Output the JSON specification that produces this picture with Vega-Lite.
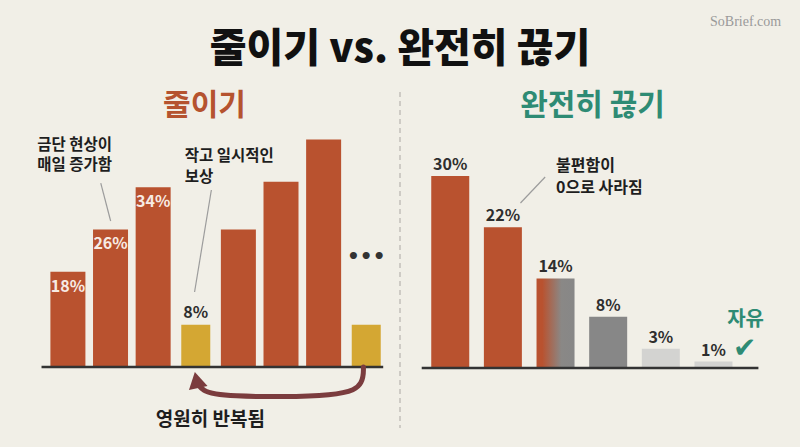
{
  "$schema": "https://vega.github.io/schema/vega-lite/v6.json",
  "width": 800,
  "height": 447,
  "autosize": {"type": "none"},
  "padding": 0,
  "background": "#f1efe7",
  "config": {
    "view": {"stroke": null},
    "font": "Noto Sans CJK KR"
  },
  "title": {
    "text": "줄이기 vs. 완전히 끊기",
    "fontSize": 40,
    "fontWeight": 900,
    "color": "#111111",
    "anchor": "middle",
    "frame": "group",
    "offset": -70
  },
  "layer": [
    {
      "description": "Cutting down: withdrawal keeps climbing between small rewards",
      "encoding": {
        "x": {"field": "i", "type": "quantitative", "axis": null, "scale": {"domain": [-0.476, 18.06], "nice": false, "zero": false}},
        "y": {"field": "v", "type": "quantitative", "axis": null, "scale": {"domain": [-15.12, 69.38], "nice": false, "zero": false}}
      },
      "layer": [
        {
          "data": {"values": [{"i": 8.792, "i2": 8.792, "v": 51.98, "v2": -11.53}]},
          "mark": {"type": "rule", "color": "#c2c0ba", "strokeWidth": 1.5, "strokeDash": [5, 4]},
          "encoding": {"x2": {"field": "i2"}, "y2": {"field": "v2"}}
        },
        {
          "data": {"name": "cutDown"},
          "transform": [{"filter": "datum.kind === '금단'"}],
          "mark": {"type": "bar", "orient": "vertical", "width": 35},
          "encoding": {
            "color": {"field": "kind", "type": "nominal", "legend": null, "scale": {"domain": ["금단", "보상"], "range": ["#b9522f", "#d4a733"]}}
          }
        },
        {
          "data": {"name": "cutDown"},
          "transform": [{"filter": "datum.kind === '보상'"}],
          "mark": {"type": "bar", "orient": "vertical", "width": 29},
          "encoding": {
            "color": {"field": "kind", "type": "nominal", "legend": null, "scale": {"domain": ["금단", "보상"], "range": ["#b9522f", "#d4a733"]}}
          }
        },
        {
          "data": {"name": "cutDown"},
          "transform": [
            {"filter": "datum.cycle === 1 && datum.kind === '금단'"},
            {"calculate": "datum.v + '%'", "as": "pct"}
          ],
          "mark": {"type": "text", "baseline": "middle", "dy": 15, "fontSize": 16, "fontWeight": "bold", "color": "#f7ebe4"},
          "encoding": {"text": {"field": "pct"}}
        },
        {
          "data": {"name": "cutDown"},
          "transform": [
            {"filter": "datum.cycle === 1 && datum.kind === '보상'"},
            {"calculate": "datum.v + '%'", "as": "pct"}
          ],
          "mark": {"type": "text", "baseline": "middle", "dy": -12, "fontSize": 16, "fontWeight": "bold", "color": "#2e2e2e"},
          "encoding": {"text": {"field": "pct"}}
        },
        {
          "data": {"values": [{"i": 0.381, "i2": 8.398, "v": 0, "v2": 0}]},
          "mark": {"type": "rule", "color": "#333333", "strokeWidth": 2.5},
          "encoding": {"x2": {"field": "i2"}, "y2": {"field": "v2"}}
        },
        {
          "data": {"values": [
            {"i": 1.771, "v": 34.78, "i2": 2.003, "v2": 27.6},
            {"i": 4.366, "v": 33.46, "i2": 3.972, "v2": 14.18}
          ]},
          "mark": {"type": "rule", "color": "#9c9c9c", "strokeWidth": 1.2},
          "encoding": {"x2": {"field": "i2"}, "y2": {"field": "v2"}}
        },
        {
          "data": {"values": [{"i": 4.204, "v": 49.34, "text": "줄이기"}]},
          "mark": {"type": "text", "baseline": "middle", "fontSize": 30, "fontWeight": "bold", "color": "#b5532f"},
          "encoding": {"text": {"field": "text"}}
        },
        {
          "data": {"values": [{"i": 1.157, "v": 41.97, "text": "금단 현상이\n매일 증가함"}]},
          "mark": {"type": "text", "baseline": "middle", "align": "center", "lineBreak": "\n", "lineHeight": 20.5, "fontSize": 15.5, "fontWeight": "bold", "color": "#1e1e1e"},
          "encoding": {"text": {"field": "text"}}
        },
        {
          "data": {"values": [{"i": 3.741, "v": 39.89, "text": "작고 일시적인\n보상"}]},
          "mark": {"type": "text", "baseline": "middle", "align": "left", "lineBreak": "\n", "lineHeight": 21, "fontSize": 15.5, "fontWeight": "bold", "color": "#1e1e1e"},
          "encoding": {"text": {"field": "text"}}
        },
        {
          "data": {"values": [{"i": 8, "v": 20.8, "text": "•••"}]},
          "mark": {"type": "text", "baseline": "middle", "font": "DejaVu Sans", "fontSize": 20, "fontWeight": "bold", "color": "#333333"},
          "encoding": {"text": {"field": "text"}}
        },
        {
          "data": {"values": [
            {"k": 1, "i": 7.934, "v": 0},
            {"k": 2, "i": 7.934, "v": -3.02},
            {"k": 3, "i": 7.564, "v": -5.67},
            {"k": 4, "i": 4.505, "v": -5.67},
            {"k": 5, "i": 4.158, "v": -4.35},
            {"k": 6, "i": 4.065, "v": -3.4}
          ]},
          "mark": {"type": "line", "interpolate": "basis", "color": "#7b3c3e", "strokeWidth": 5, "strokeCap": "round"},
          "encoding": {"order": {"field": "k", "type": "quantitative"}}
        },
        {
          "data": {"values": [{"i": 4.018, "v": -2.46}]},
          "mark": {"type": "point", "shape": "triangle-up", "size": 360, "filled": true, "opacity": 1, "angle": -12, "color": "#7b3c3e"}
        },
        {
          "data": {"values": [{"i": 4.343, "v": -10.02, "text": "영원히 반복됨"}]},
          "mark": {"type": "text", "baseline": "middle", "fontSize": 19, "fontWeight": "bold", "color": "#1e1e1e"},
          "encoding": {"text": {"field": "text"}}
        }
      ]
    },
    {
      "description": "Quitting completely: discomfort fades to nothing",
      "encoding": {
        "x": {"field": "i", "type": "quantitative", "axis": null, "scale": {"domain": [-7.458, 7.549], "nice": false, "zero": false}},
        "y": {"field": "v", "type": "quantitative", "axis": null, "scale": {"domain": [-12.34, 57.5], "nice": false, "zero": false}}
      },
      "layer": [
        {
          "data": {"name": "quit"},
          "transform": [{"filter": "datum.stage !== '전환'"}],
          "mark": {"type": "bar", "orient": "vertical", "width": 38},
          "encoding": {
            "color": {"field": "stage", "type": "nominal", "legend": null, "scale": {"domain": ["금단", "감소", "회복"], "range": ["#b9522f", "#878787", "#d3d3d1"]}}
          }
        },
        {
          "data": {"name": "quit"},
          "transform": [{"filter": "datum.stage === '전환'"}],
          "mark": {
            "type": "bar", "orient": "vertical", "width": 38,
            "color": {
              "gradient": "linear", "x1": 0, "x2": 1, "y1": 0, "y2": 0,
              "stops": [
                {"offset": 0, "color": "#b9522f"},
                {"offset": 0.15, "color": "#b9522f"},
                {"offset": 0.65, "color": "#8a8886"},
                {"offset": 1, "color": "#878787"}
              ]
            }
          }
        },
        {
          "data": {"name": "quit"},
          "transform": [{"calculate": "datum.v + '%'", "as": "pct"}],
          "mark": {"type": "text", "baseline": "middle", "dy": -11, "fontSize": 16, "fontWeight": "bold", "color": "#2e2e2e"},
          "encoding": {"text": {"field": "pct"}}
        },
        {
          "data": {"values": [{"i": 0.458, "i2": 6.854, "v": 0, "v2": 0}]},
          "mark": {"type": "rule", "color": "#333333", "strokeWidth": 2.5},
          "encoding": {"x2": {"field": "i2"}, "y2": {"field": "v2"}}
        },
        {
          "data": {"values": [{"i": 2.803, "v": 29.84, "i2": 2.334, "v2": 25.78}]},
          "mark": {"type": "rule", "color": "#9c9c9c", "strokeWidth": 1.2},
          "encoding": {"x2": {"field": "i2"}, "y2": {"field": "v2"}}
        },
        {
          "data": {"values": [{"i": 3.703, "v": 40.94, "text": "완전히 끊기"}]},
          "mark": {"type": "text", "baseline": "middle", "fontSize": 30, "fontWeight": "bold", "color": "#2e8b74"},
          "encoding": {"text": {"field": "text"}}
        },
        {
          "data": {"values": [{"i": 3.009, "v": 31.56, "text": "불편함이\n0으로 사라짐"}]},
          "mark": {"type": "text", "baseline": "middle", "align": "left", "lineBreak": "\n", "lineHeight": 22, "fontSize": 16, "fontWeight": "bold", "color": "#1e1e1e"},
          "encoding": {"text": {"field": "text"}}
        },
        {
          "data": {"values": [{"i": 6.611, "v": 7.5, "text": "자유"}]},
          "mark": {"type": "text", "baseline": "middle", "fontSize": 20, "fontWeight": "bold", "color": "#2e8b74"},
          "encoding": {"text": {"field": "text"}}
        },
        {
          "data": {"values": [{"i": 6.592, "v": 2.9, "text": "✔"}]},
          "mark": {"type": "text", "baseline": "middle", "font": "DejaVu Sans", "fontSize": 28, "color": "#2e8b74"},
          "encoding": {"text": {"field": "text"}}
        },
        {
          "data": {"values": [{"i": 6.611, "v": 54.06, "text": "SoBrief.com"}]},
          "mark": {"type": "text", "baseline": "middle", "font": "Liberation Sans Narrow", "fontSize": 14, "color": "#9a9a9a"},
          "encoding": {"text": {"field": "text"}}
        }
      ]
    }
  ],
  "resolve": {"scale": {"x": "independent", "y": "independent", "color": "independent"}},
  "datasets": {
    "cutDown": [
      {"i": 1, "v": 18, "kind": "금단", "cycle": 1},
      {"i": 2, "v": 26, "kind": "금단", "cycle": 1},
      {"i": 3, "v": 34, "kind": "금단", "cycle": 1},
      {"i": 4, "v": 8, "kind": "보상", "cycle": 1},
      {"i": 5, "v": 26, "kind": "금단", "cycle": 2},
      {"i": 6, "v": 35, "kind": "금단", "cycle": 2},
      {"i": 7, "v": 43, "kind": "금단", "cycle": 2},
      {"i": 8, "v": 8, "kind": "보상", "cycle": 2}
    ],
    "quit": [
      {"i": 1, "v": 30, "stage": "금단"},
      {"i": 2, "v": 22, "stage": "금단"},
      {"i": 3, "v": 14, "stage": "전환"},
      {"i": 4, "v": 8, "stage": "감소"},
      {"i": 5, "v": 3, "stage": "회복"},
      {"i": 6, "v": 1, "stage": "회복"}
    ]
  }
}
